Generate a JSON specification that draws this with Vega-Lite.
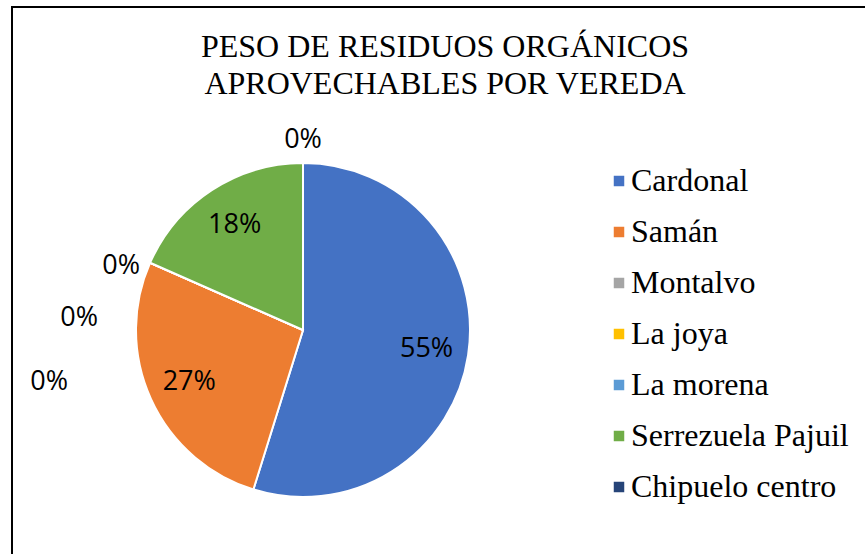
{
  "$schema": "https://vega.github.io/schema/vega-lite/v6.json",
  "width": 866,
  "height": 560,
  "autosize": {"type": "none"},
  "padding": {"left": 12, "top": 7, "right": 0, "bottom": 0},
  "background": "white",
  "view": {"stroke": "black", "strokeWidth": 2},
  "title": {
    "text": ["PESO DE RESIDUOS ORGÁNICOS", "APROVECHABLES POR VEREDA"],
    "font": "Liberation Serif",
    "fontSize": 32,
    "fontWeight": "normal",
    "color": "black",
    "lineHeight": 37,
    "anchor": "middle",
    "baseline": "top",
    "offset": -23,
    "dy": 71
  },
  "data": {
    "values": [
      {"Vereda": "Cardonal", "valor": 0.548, "orden": 1},
      {"Vereda": "Samán", "valor": 0.268, "orden": 2},
      {"Vereda": "Montalvo", "valor": 0, "orden": 3},
      {"Vereda": "La joya", "valor": 0, "orden": 4},
      {"Vereda": "La morena", "valor": 0, "orden": 5},
      {"Vereda": "Serrezuela Pajuil", "valor": 0.184, "orden": 6},
      {"Vereda": "Chipuelo centro", "valor": 0, "orden": 7}
    ]
  },
  "encoding": {
    "theta": {"field": "valor", "type": "quantitative", "stack": true},
    "order": {"field": "orden", "type": "quantitative", "sort": "ascending"}
  },
  "layer": [
    {
      "mark": {"type": "arc", "radius": 167, "x": 291, "y": 323, "stroke": "white", "strokeWidth": 2},
      "encoding": {
        "color": {
          "field": "Vereda",
          "type": "nominal",
          "scale": {
            "domain": ["Cardonal", "Samán", "Montalvo", "La joya", "La morena", "Serrezuela Pajuil", "Chipuelo centro"],
            "range": ["#4472C4", "#ED7D31", "#A5A5A5", "#FFC000", "#5B9BD5", "#70AD47", "#264478"]
          },
          "legend": {
            "orient": "none",
            "legendX": 591,
            "legendY": 158,
            "title": null,
            "labelFont": "Liberation Serif",
            "labelFontSize": 32,
            "labelColor": "black",
            "labelOffset": -4,
            "labelLimit": 0,
            "symbolType": "square",
            "symbolSize": 110,
            "symbolStrokeWidth": 0,
            "rowPadding": 19
          }
        }
      }
    },
    {
      "mark": {"type": "text", "radius": 125, "x": 291, "y": 323, "font": "Open Sans", "fontSize": 27, "color": "black"},
      "encoding": {
        "detail": {"field": "Vereda", "type": "nominal"},
        "text": {"condition": {"test": "datum.valor > 0", "field": "valor", "type": "quantitative", "format": ".0%"}, "value": ""}
      }
    },
    {
      "mark": {"type": "text", "radius": 190, "x": 291, "y": 323, "font": "Open Sans", "fontSize": 27, "color": "black"},
      "encoding": {
        "detail": {"field": "Vereda", "type": "nominal"},
        "text": {"condition": {"test": "datum.Vereda === 'Chipuelo centro'", "field": "valor", "type": "quantitative", "format": ".0%"}, "value": ""}
      }
    },
    {
      "mark": {"type": "text", "radius": 167, "x": 291, "y": 323, "dx": -29, "dy": 3, "font": "Open Sans", "fontSize": 27, "color": "black"},
      "encoding": {
        "detail": {"field": "Vereda", "type": "nominal"},
        "text": {"condition": {"test": "datum.Vereda === 'Montalvo'", "field": "valor", "type": "quantitative", "format": ".0%"}, "value": ""}
      }
    },
    {
      "mark": {"type": "text", "radius": 167, "x": 291, "y": 323, "dx": -71, "dy": 55, "font": "Open Sans", "fontSize": 27, "color": "black"},
      "encoding": {
        "detail": {"field": "Vereda", "type": "nominal"},
        "text": {"condition": {"test": "datum.Vereda === 'La joya'", "field": "valor", "type": "quantitative", "format": ".0%"}, "value": ""}
      }
    },
    {
      "mark": {"type": "text", "radius": 167, "x": 291, "y": 323, "dx": -101, "dy": 119, "font": "Open Sans", "fontSize": 27, "color": "black"},
      "encoding": {
        "detail": {"field": "Vereda", "type": "nominal"},
        "text": {"condition": {"test": "datum.Vereda === 'La morena'", "field": "valor", "type": "quantitative", "format": ".0%"}, "value": ""}
      }
    }
  ],
  "config": {
    "view": {"stroke": "black", "strokeWidth": 2}
  }
}
